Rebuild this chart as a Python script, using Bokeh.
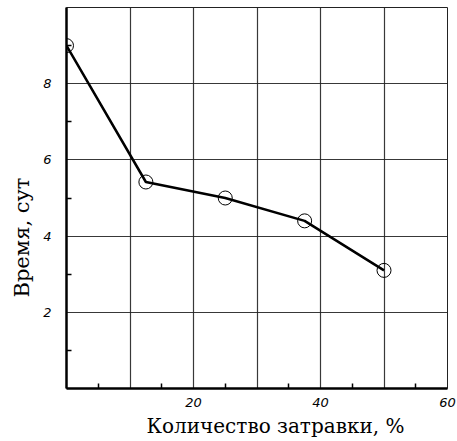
from bokeh.plotting import figure
from bokeh.models import Range1d, FixedTicker, Title
from bokeh.embed import file_html
from bokeh.resources import INLINE

# Data
seed_pct = [0, 12.5, 25, 37.5, 50]
time_days = [9.0, 5.42, 5.0, 4.4, 3.1]

x_tick_labels = [20, 40, 60]
x_minor = [5, 15, 25, 35, 45, 55]
x_grid = [10, 20, 30, 40, 50]
y_tick_labels = [2, 4, 6, 8]
y_minor = [1, 3, 5, 7, 9]

p = figure(width=457, height=441, output_backend="svg", toolbar_location=None,
           x_range=Range1d(0, 60), y_range=Range1d(0, 10),
           min_border_left=65, min_border_right=10, min_border_top=7, min_border_bottom=53)

p.background_fill_color = "white"
p.border_fill_color = "white"
p.outline_line_color = "#222222"
p.outline_line_width = 1

for ax, ticks, minors in ((p.xaxis[0], x_tick_labels, x_minor), (p.yaxis[0], y_tick_labels, y_minor)):
    ax.ticker = FixedTicker(ticks=ticks, minor_ticks=minors)
    ax.axis_line_color = "black"
    ax.axis_line_width = 2.5
    ax.major_tick_in = 0
    ax.major_tick_out = 0
    ax.minor_tick_in = 5
    ax.minor_tick_out = 0
    ax.minor_tick_line_color = "black"
    ax.minor_tick_line_width = 1.5
    ax.major_label_text_font = "DejaVu Sans"
    ax.major_label_text_font_style = "italic"
    ax.major_label_text_font_size = "13px"
    ax.major_label_text_color = "black"

p.xaxis.major_label_standoff = 9
p.yaxis.major_label_standoff = 15

p.xgrid.ticker = FixedTicker(ticks=x_grid)
p.ygrid.ticker = FixedTicker(ticks=y_tick_labels)
for g in (p.xgrid[0], p.ygrid[0]):
    g.grid_line_color = "#222222"
    g.grid_line_width = 1.2
    g.grid_line_alpha = 0.9

p.line(seed_pct, time_days, line_color="black", line_width=2.5)
p.scatter(seed_pct, time_days, marker="circle", size=14, fill_alpha=0,
          line_color="black", line_width=1)

xt = Title(text="Количество затравки, %", align="left", offset=80,
           text_font="DejaVu Serif", text_font_size="20px", text_font_style="normal",
           text_color="black", standoff=4)
p.add_layout(xt, "below")
yt = Title(text="Время, сут", align="left", offset=91,
           text_font="DejaVu Serif", text_font_size="21px", text_font_style="normal",
           text_color="black", standoff=14)
p.add_layout(yt, "left")

open("out.html", "w").write(file_html(p, INLINE))
